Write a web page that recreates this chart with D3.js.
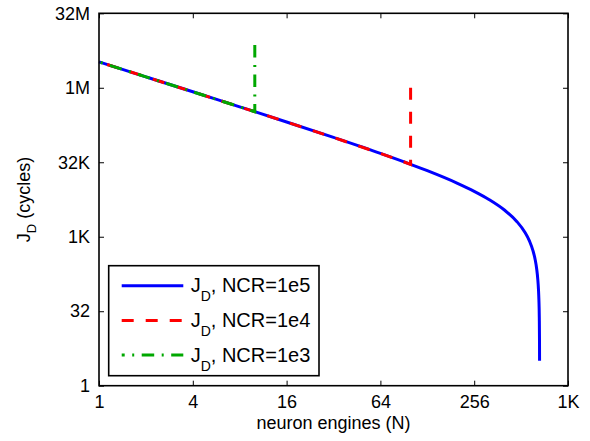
<!DOCTYPE html>
<html>
<head>
<meta charset="utf-8">
<script src="https://cdn.jsdelivr.net/npm/d3@7"></script>
<style>
  body { margin: 0; background: #fff; }
  text { font-family: "Liberation Sans", Arial, sans-serif; }
</style>
</head>
<body>
<script>
// values
var nEngines = [1, 2, 4, 8, 10, 16, 32, 64, 100, 128, 200, 256, 320, 400, 480, 540,
                580, 610, 630, 645, 655, 662, 666, 670, 672, 672.6];
var jd1e5 = [3495000, 1745000, 870000, 432000, 345000, 213500, 104000, 49500, 29800,
             22100, 12300, 8470, 5740, 3550, 2090, 1280, 834, 538, 356, 226, 143, 87,
             55, 24, 8, 3.2];
var n1e4 = [1, 2, 4, 8, 10, 16, 32, 64, 100, 100];
var jd1e4 = [3495000, 1745000, 870000, 432000, 345000, 213500, 104000, 49500, 29800, 1048576];
var n1e3 = [1, 2, 4, 8, 10, 10];
var jd1e3 = [3495000, 1745000, 870000, 432000, 345000, 7700000];

var xTicks = [1, 4, 16, 64, 256, 1024],
    xTickLabels = ["1", "4", "16", "64", "256", "1K"];
var yTicks = [1, 32, 1024, 32768, 1048576, 33554432],
    yTickLabels = ["1", "32", "1K", "32K", "1M", "32M"];

var series = [
  {n: nEngines, j: jd1e5, color: "#0000ff", dash: null, dashEnd: 0, period: 1, label: "1e5", curve: d3.curveMonotoneX},
  {n: n1e4, j: jd1e4, color: "#ff0000", dash: "12,12", dashEnd: 12, period: 24, label: "1e4", curve: d3.curveLinear},
  {n: n1e3, j: jd1e3, color: "#00a800", dash: "12.5,7.5,2,7.5", dashEnd: 12.5, period: 29.5, label: "1e3", curve: d3.curveLinear}
];

var plotL = 99, plotR = 568, plotT = 13.3, plotB = 385.7;

var x = d3.scaleLog().base(2).domain([1, 1024]).range([plotL, plotR]);
var y = d3.scaleLog().base(2).domain([1, 33554432]).range([plotB, plotT]);

var svg = d3.select("body").append("svg")
    .attr("width", 590)
    .attr("height", 441);

// lines
var plot = svg.append("g");
series.forEach(function(s) {
  var pts = s.n.map(function(d, i) { return [d, s.j[i]]; });
  var path = plot.append("path")
      .datum(pts)
      .attr("fill", "none")
      .attr("stroke", s.color)
      .attr("stroke-width", 3)
      .attr("stroke-dasharray", s.dash)
      .attr("d", d3.line()
        .curve(s.curve)
        .x(function(d) { return x(d[0]); })
        .y(function(d) { return y(d[1]); }));
  if (s.dash) {
    // end the spike on a full dash, like the reference
    var len = path.node().getTotalLength();
    var off = ((s.dashEnd - len % s.period) % s.period + s.period) % s.period;
    path.attr("stroke-dashoffset", off);
  }
});

// axes
function styleAxis(g) {
  g.select(".domain").remove();
  g.selectAll(".tick line").attr("stroke", "#000").attr("stroke-width", 1);
  g.selectAll(".tick text").attr("fill", "#000")
      .style("font-size", "18px")
      .style("font-family", "'Liberation Sans', Arial, sans-serif");
}

svg.append("g")
    .attr("transform", "translate(0," + plotB + ")")
    .call(d3.axisBottom(x).tickValues(xTicks)
      .tickFormat(function(d, i) { return xTickLabels[i]; })
      .tickSize(-5).tickPadding(10))
    .call(styleAxis);
svg.append("g")
    .attr("transform", "translate(0," + plotT + ")")
    .call(d3.axisTop(x).tickValues(xTicks).tickFormat("").tickSize(-5))
    .call(styleAxis);
svg.append("g")
    .attr("transform", "translate(" + plotL + ",0)")
    .call(d3.axisLeft(y).tickValues(yTicks)
      .tickFormat(function(d, i) { return yTickLabels[i]; })
      .tickSize(-5).tickPadding(9))
    .call(styleAxis);
svg.append("g")
    .attr("transform", "translate(" + plotR + ",0)")
    .call(d3.axisRight(y).tickValues(yTicks).tickFormat("").tickSize(-5))
    .call(styleAxis);

svg.append("rect")
    .attr("x", plotL).attr("y", plotT)
    .attr("width", plotR - plotL).attr("height", plotB - plotT)
    .attr("fill", "none").attr("stroke", "#000").attr("stroke-width", 1.6);

// axis labels
svg.append("text")
    .attr("x", (plotL + plotR) / 2).attr("y", 429)
    .attr("text-anchor", "middle")
    .style("font-size", "18px")
    .text("neuron engines (N)");

var yl = svg.append("text")
    .attr("transform", "translate(30," + ((plotT + plotB) / 2) + ")rotate(-90)")
    .attr("text-anchor", "middle")
    .style("font-size", "18px");
yl.append("tspan").text("J");
yl.append("tspan").attr("dy", 6).style("font-size", "13px").text("D");
yl.append("tspan").attr("dy", -6).text(" (cycles)");

// legend
var legend = svg.append("g");
legend.append("rect")
    .attr("x", 108.7).attr("y", 265.7)
    .attr("width", 210.3).attr("height", 110)
    .attr("fill", "#fff").attr("stroke", "#000").attr("stroke-width", 1.6);

series.forEach(function(s, i) {
  var ly = 285.7 + i * 34.7;
  legend.append("line")
      .attr("x1", 121.7).attr("x2", 183.3)
      .attr("y1", ly).attr("y2", ly)
      .attr("stroke", s.color)
      .attr("stroke-width", 3)
      .attr("stroke-dasharray", s.dash)
      .attr("stroke-dashoffset", i == 2 ? 9.5 : 0);
  var t = legend.append("text")
      .attr("x", 190.7).attr("y", ly + 6.5)
      .style("font-size", "20px");
  t.append("tspan").text("J");
  t.append("tspan").attr("dy", 9).style("font-size", "14px").text("D");
  t.append("tspan").attr("dy", -9).text(", NCR=" + s.label);
});
</script>
</body>
</html>
